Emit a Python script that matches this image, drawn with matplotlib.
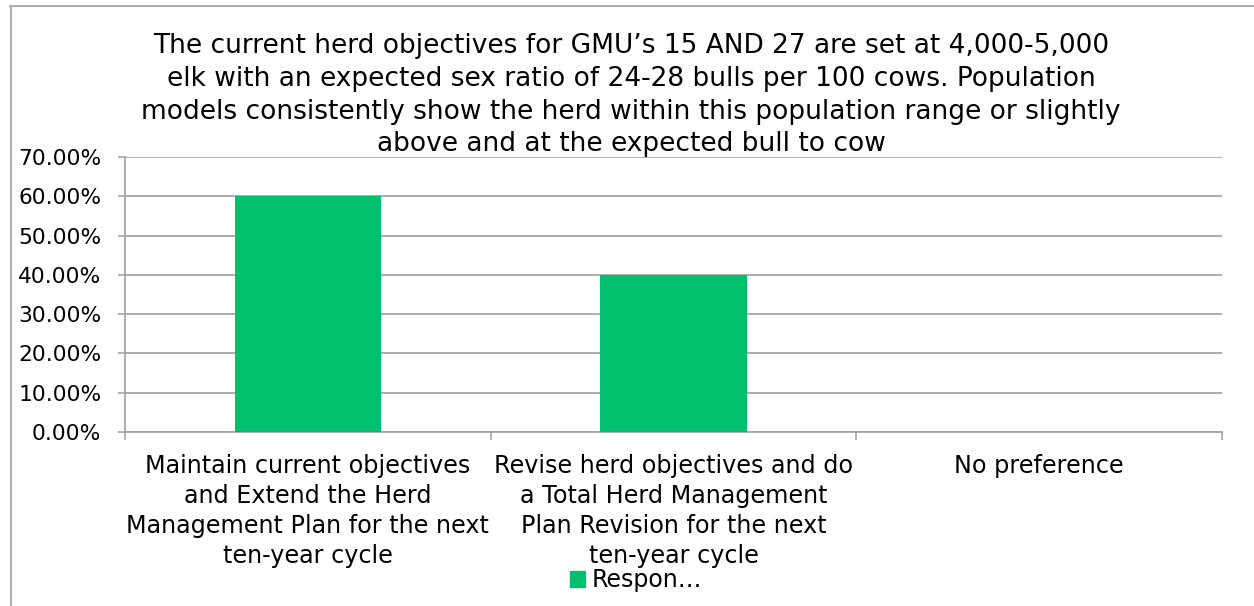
import matplotlib
matplotlib.use("Agg")
import matplotlib.pyplot as plt
from matplotlib.lines import Line2D
from matplotlib.patches import Patch

categories = [
    "Maintain current objectives\nand Extend the Herd\nManagement Plan for the next\nten-year cycle",
    "Revise herd objectives and do\na Total Herd Management\nPlan Revision for the next\nten-year cycle",
    "No preference",
]
values = [0.60, 0.40, 0.0]
yticks = [0.0, 0.1, 0.2, 0.3, 0.4, 0.5, 0.6, 0.7]
ytick_labels = ["0.00%", "10.00%", "20.00%", "30.00%", "40.00%", "50.00%", "60.00%", "70.00%"]
series_name = "Respon…"
title = ("The current herd objectives for GMU’s 15 AND 27 are set at 4,000-5,000\n"
         "elk with an expected sex ratio of 24-28 bulls per 100 cows. Population\n"
         "models consistently show the herd within this population range or slightly\n"
         "above and at the expected bull to cow")

GREEN = "#00BF6F"
GRID = "#A6A6A6"
FONT = "DejaVu Sans"
plt.rcParams['font.family'] = [FONT]

W, H = 1254, 606
fig = plt.figure(figsize=(W / 100, H / 100), dpi=100)
ax = fig.add_axes([125 / W, 1 - 432 / H, (1222 - 125) / W, (432 - 157) / H])

x = list(range(len(categories)))
ax.bar(x, values, width=0.4, color=GREEN, zorder=3)
ax.set_xlim(-0.5, len(categories) - 0.5)
ax.set_ylim(0, 0.7)
ax.set_yticks(yticks)
ax.set_yticklabels(ytick_labels, fontsize=15.7, color="#000000")
ax.yaxis.grid(True, color=GRID, linewidth=1.3, zorder=0)
ax.set_axisbelow(True)
ax.tick_params(axis='y', length=5, width=1.2, color=GRID, pad=12)

ax.set_xticks(x)
ax.set_xticklabels(categories, fontsize=17.2, linespacing=1.32, va='top')
ax.tick_params(axis='x', which='major', length=0, pad=16)
ax.set_xticks([i - 0.5 for i in range(len(categories) + 1)], minor=True)
ax.tick_params(axis='x', which='minor', length=6, width=1.2, color=GRID)

for s in ['top', 'right']:
    ax.spines[s].set_visible(False)
for s in ['left', 'bottom']:
    ax.spines[s].set_color(GRID)
    ax.spines[s].set_linewidth(1.3)

fig.text(631 / W, 1 - 33 / H, title, ha='center', va='top', fontsize=19, linespacing=1.34)

# legend
leg = fig.legend(handles=[Patch(color=GREEN, label=series_name)], loc='center',
                 bbox_to_anchor=(636 / W, 1 - 580 / H), frameon=False, fontsize=17,
                 handlelength=0.65, handleheight=0.65, handletextpad=0.3)

# outer border (top & left visible)
fig.add_artist(Line2D([10 / W, 1], [1 - 6 / H, 1 - 6 / H], transform=fig.transFigure, color="#999999", lw=1.2))
fig.add_artist(Line2D([11 / W, 11 / W], [0, 1 - 6 / H], transform=fig.transFigure, color="#B0B0B0", lw=1.5))

fig.savefig("out.png", dpi=100, facecolor="white")
